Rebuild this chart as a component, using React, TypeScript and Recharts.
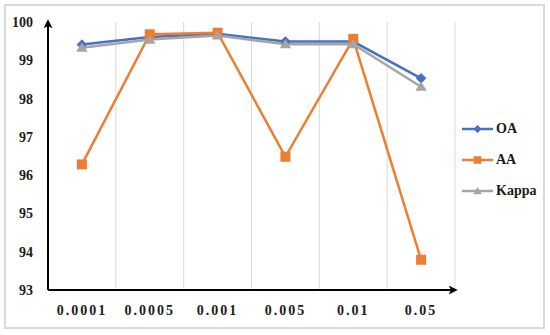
import React from 'react';
import { LineChart, Line, XAxis, YAxis, ReferenceLine } from 'recharts';

const categories = ['0.0001', '0.0005', '0.001', '0.005', '0.01', '0.05'];
const oaValues = [99.41, 99.61, 99.69, 99.49, 99.49, 98.53];
const aaValues = [96.28, 99.68, 99.72, 96.48, 99.56, 93.79];
const kappaValues = [99.33, 99.54, 99.65, 99.42, 99.42, 98.31];
const yTicks = [93, 94, 95, 96, 97, 98, 99, 100];

const data = categories.map((c, i) => ({
  pos: i + 0.5,
  label: c,
  OA: oaValues[i],
  AA: aaValues[i],
  Kappa: kappaValues[i],
}));
const xTicks = data.map((d) => d.pos);
const boundaries = categories.map((_, i) => i + 1);

const BLUE = '#4472C4';
const ORANGE = '#ED7D31';
const GRAY = '#A5A5A5';
const FONT = '"Liberation Serif", "Times New Roman", serif';

const Diamond = ({ cx, cy, r, color }: any) => (
  <path d={`M${cx},${cy - r} L${cx + r},${cy} L${cx},${cy + r} L${cx - r},${cy} Z`} fill={color} stroke={color} strokeWidth={1} />
);
const Square = ({ cx, cy, r, color }: any) => (
  <rect x={cx - r} y={cy - r} width={2 * r} height={2 * r} fill={color} />
);
const Triangle = ({ cx, cy, r, color }: any) => (
  <path d={`M${cx},${cy - r} L${cx + r * 1.1},${cy + r * 0.8} L${cx - r * 1.1},${cy + r * 0.8} Z`} fill={color} />
);

const series = [
  { key: 'OA', color: BLUE, Shape: Diamond, r: 4.8, lr: 3.6 },
  { key: 'AA', color: ORANGE, Shape: Square, r: 5, lr: 3.8 },
  { key: 'Kappa', color: GRAY, Shape: Triangle, r: 5.2, lr: 4 },
];

const LegendBox = () => (
  <div style={{ position: 'absolute', left: 462, top: 113, fontFamily: FONT, fontWeight: 'bold', fontSize: 14, color: '#1a1a1a' }}>
    {series.map((s) => (
      <div key={s.key} style={{ display: 'flex', alignItems: 'center', height: 31 }}>
        <svg width={34} height={14} style={{ display: 'block' }}>
          <line x1={0} y1={7} x2={31} y2={7} stroke={s.color} strokeWidth={2.5} />
          <s.Shape cx={15.5} cy={7} r={s.lr} color={s.color} />
        </svg>
        <span>{s.key}</span>
      </div>
    ))}
  </div>
);

const XTick = ({ x, y, payload }: any) => {
  const idx = Math.round(payload.value - 0.5);
  return (
    <text x={x} y={y + 17} textAnchor="middle" fontFamily={FONT} fontWeight="bold" fontSize={14} fill="#1a1a1a" letterSpacing={2}>
      {categories[idx]}
    </text>
  );
};

export default function App() {
  return (
    <div style={{ position: 'absolute', left: 0, top: 0, width: 550, height: 335, background: '#fff' }}>
      <svg width={0} height={0} style={{ position: 'absolute' }}>
        <defs>
          <marker id="arrowHead" viewBox="0 0 10 10" refX="7" refY="5" markerWidth="5" markerHeight="4.5" orient="auto-start-reverse">
            <path d="M0,0 L10,5 L0,10 L2.5,5 z" fill="#000" />
          </marker>
        </defs>
      </svg>
      <div style={{ position: 'absolute', left: 4, top: 4, width: 541, height: 325, border: '2px solid #d9d9d9', boxSizing: 'border-box' }} />
      <div style={{ position: 'absolute', left: 0, top: 0 }}>
        <LineChart width={550} height={335} data={data} margin={{ top: 22, right: 95, bottom: 15, left: 8 }}>
          {boundaries.map((b) => (
            <ReferenceLine key={b} x={b} stroke="#d9d9d9" strokeWidth={1} />
          ))}
          <XAxis
            dataKey="pos"
            type="number"
            domain={[0, categories.length]}
            ticks={xTicks}
            tick={<XTick />}
            tickLine={false}
            height={30}
            axisLine={{ stroke: '#000', strokeWidth: 2, markerEnd: 'url(#arrowHead)' }}
          />
          <YAxis
            type="number"
            domain={[93, 100]}
            ticks={yTicks}
            width={40}
            tickLine={false}
            tickSize={0}
            tickMargin={15}
            tick={{ fontFamily: FONT, fontWeight: 'bold', fontSize: 14, fill: '#1a1a1a' }}
            axisLine={{ stroke: '#000', strokeWidth: 2, markerStart: 'url(#arrowHead)' }}
          />
          {series.map((s) => (
            <Line
              key={s.key}
              dataKey={s.key}
              stroke={s.color}
              strokeWidth={2.5}
              isAnimationActive={false}
              dot={(p: any) => <s.Shape key={`${s.key}-${p.index}`} cx={p.cx} cy={p.cy} r={s.r} color={s.color} />}
              activeDot={false}
            />
          ))}
        </LineChart>
      </div>
      <LegendBox />
    </div>
  );
}
